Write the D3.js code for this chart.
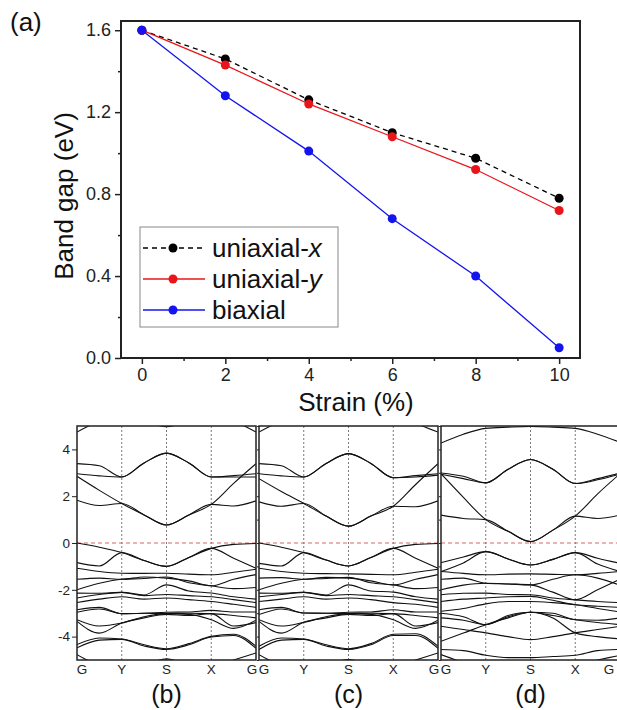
<!DOCTYPE html>
<html>
<head>
<meta charset="utf-8">
<script src="https://cdn.jsdelivr.net/npm/d3@7"></script>
<style>
  body { margin: 0; background: #fff; }
  text { font-family: Arial, "Liberation Sans", sans-serif; }
</style>
</head>
<body>
<div id="chart"></div>
<script>
/* ------------------------- Data ------------------------- */
/* band gap vs strain (panel a) */
var strain = [0, 2, 4, 6, 8, 10];
var gapUniX = [1.60, 1.46, 1.26, 1.10, 0.975, 0.78];
var gapUniY = [1.60, 1.43, 1.24, 1.08, 0.92, 0.72];
var gapBi = [1.60, 1.28, 1.01, 0.68, 0.40, 0.05];
var seriesNames = ["uniaxial-", "uniaxial-", "biaxial"];
var seriesItalic = ["x", "y", ""];

var xTicks = [0, 2, 4, 6, 8, 10],
    xMinor = [1, 3, 5, 7, 9],
    yTicks = [0, 0.4, 0.8, 1.2, 1.6],
    yMinor = [0.2, 0.6, 1.0, 1.4];

/* band structures: energies at G, GY, Y, YS, S, SX, X, XG, G */
var kPos = [0, 0.5, 1, 1.5, 2, 2.5, 3, 3.5, 4];
var kLabels = ["G", "Y", "S", "X", "G"];
var eTicks = [-4, -2, 0, 2, 4];

var bandsB = [
  [1.83, 1.60, 1.69, 1.20, 0.77, 1.20, 1.65, 1.58, 1.80],
  [2.85, 2.25, 1.69, 1.20, 0.77, 1.20, 1.65, 2.55, 3.39],
  [3.39, 3.30, 2.82, 3.42, 3.84, 3.42, 2.82, 2.88, 2.96],
  [2.96, 2.87, 2.82, 3.42, 3.84, 3.42, 2.82, 2.82, 2.82],
  [4.74, 5.20, 5.40, 5.20, 4.97, 5.20, 5.40, 5.20, 4.74],
  [0.00, -0.18, -0.41, -0.75, -1.00, -0.62, -0.23, -0.06, -0.02],
  [-0.84, -0.98, -0.41, -0.75, -1.00, -0.62, -0.23, -0.65, -1.08],
  [-1.08, -1.22, -1.29, -1.30, -1.29, -1.33, -1.36, -1.25, -1.12],
  [-1.55, -1.50, -1.55, -1.45, -1.50, -1.62, -1.83, -1.55, -1.35],
  [-2.00, -1.72, -1.55, -1.52, -1.45, -1.70, -1.83, -1.95, -1.90],
  [-2.14, -2.15, -2.11, -2.22, -1.79, -2.05, -2.14, -2.30, -2.40],
  [-2.35, -2.20, -2.11, -2.25, -2.20, -2.25, -2.30, -2.42, -2.55],
  [-2.54, -2.40, -2.30, -2.40, -2.35, -2.42, -2.50, -2.62, -2.75],
  [-2.85, -2.75, -3.02, -3.00, -2.96, -2.95, -2.88, -2.95, -2.95],
  [-2.96, -2.82, -3.02, -3.00, -3.02, -3.00, -3.02, -3.10, -3.20],
  [-3.28, -3.55, -3.42, -3.15, -3.02, -3.05, -3.28, -3.65, -3.30],
  [-3.35, -3.85, -3.42, -3.20, -3.05, -3.10, -3.02, -3.55, -3.40],
  [-4.34, -4.06, -4.10, -4.35, -4.52, -4.30, -3.99, -3.90, -4.41],
  [-4.48, -4.15, -4.12, -4.40, -4.55, -4.35, -4.02, -3.95, -4.50],
  [-4.77, -5.20, -5.30, -5.20, -4.95, -5.20, -5.30, -5.00, -4.70]
];

var bandsC = [
  [1.76, 1.57, 1.69, 1.15, 0.72, 1.15, 1.57, 1.55, 1.80],
  [2.75, 2.20, 1.69, 1.15, 0.72, 1.15, 1.57, 2.50, 3.39],
  [3.39, 3.30, 2.82, 3.40, 3.82, 3.40, 2.79, 2.88, 2.96],
  [2.96, 2.87, 2.82, 3.40, 3.82, 3.40, 2.79, 2.82, 2.90],
  [4.74, 5.20, 5.40, 5.20, 5.30, 5.20, 5.40, 5.10, 4.74],
  [0.00, -0.18, -0.41, -0.73, -0.98, -0.62, -0.23, -0.06, -0.02],
  [-0.87, -0.98, -0.41, -0.73, -0.98, -0.62, -0.23, -0.65, -1.08],
  [-1.08, -1.22, -1.29, -1.31, -1.32, -1.34, -1.36, -1.25, -1.12],
  [-1.50, -1.48, -1.55, -1.47, -1.50, -1.62, -1.79, -1.55, -1.35],
  [-2.00, -1.72, -1.55, -1.52, -1.47, -1.70, -1.79, -1.95, -1.90],
  [-2.14, -2.15, -2.11, -2.22, -1.79, -2.05, -2.10, -2.30, -2.40],
  [-2.30, -2.20, -2.11, -2.25, -2.20, -2.25, -2.30, -2.42, -2.55],
  [-2.50, -2.40, -2.30, -2.40, -2.35, -2.42, -2.55, -2.62, -2.75],
  [-2.85, -2.75, -2.99, -3.00, -2.96, -2.95, -2.85, -2.95, -2.95],
  [-3.06, -2.82, -2.99, -3.00, -3.02, -3.00, -3.02, -3.10, -3.20],
  [-3.28, -3.55, -3.39, -3.15, -3.02, -3.05, -3.28, -3.65, -3.30],
  [-3.35, -3.85, -3.39, -3.20, -3.05, -3.10, -3.02, -3.55, -3.40],
  [-4.41, -4.06, -4.10, -4.35, -4.52, -4.30, -3.90, -3.88, -4.41],
  [-4.55, -4.15, -4.12, -4.40, -4.55, -4.35, -3.95, -3.95, -4.50],
  [-4.77, -5.20, -5.30, -5.20, -4.98, -5.20, -5.30, -5.00, -4.70]
];

var bandsD = [
  [1.19, 1.05, 1.00, 0.50, 0.06, 0.55, 1.15, 1.05, 1.19],
  [2.96, 1.95, 1.00, 0.50, 0.06, 0.55, 1.15, 2.10, 2.96],
  [2.99, 2.85, 2.57, 3.15, 3.57, 3.15, 2.54, 2.75, 2.99],
  [2.94, 2.75, 2.57, 3.15, 3.57, 3.15, 2.54, 2.70, 2.94],
  [4.27, 4.65, 4.90, 4.95, 4.98, 4.95, 4.90, 4.65, 4.30],
  [-0.84, -0.60, -0.37, -0.68, -0.94, -0.70, -0.41, -0.65, -0.87],
  [-1.22, -0.85, -0.37, -0.68, -0.94, -0.70, -0.41, -0.90, -1.22],
  [-1.22, -1.30, -1.36, -1.33, -1.32, -1.34, -1.36, -1.30, -1.22],
  [-1.55, -1.50, -1.72, -1.75, -1.79, -2.10, -2.43, -2.00, -1.55],
  [-2.00, -1.80, -1.72, -1.75, -1.79, -1.55, -1.36, -1.50, -1.80],
  [-2.21, -2.15, -2.14, -2.20, -2.21, -2.35, -2.43, -2.50, -2.55],
  [-2.50, -2.40, -2.35, -2.30, -2.28, -2.45, -2.64, -2.70, -2.75],
  [-2.92, -2.80, -2.60, -2.50, -2.50, -2.55, -2.64, -2.80, -2.95],
  [-3.00, -3.15, -3.49, -3.10, -2.96, -3.00, -3.28, -3.30, -3.20],
  [-3.20, -3.30, -3.49, -3.15, -2.96, -3.10, -3.28, -3.40, -3.49],
  [-3.56, -3.70, -3.84, -4.00, -4.13, -4.00, -3.84, -3.70, -3.56],
  [-4.20, -3.85, -3.49, -3.20, -2.96, -3.20, -3.84, -4.00, -4.10],
  [-4.55, -4.60, -4.80, -4.90, -4.90, -4.85, -4.80, -4.60, -4.55],
  [-4.77, -5.10, -5.30, -5.30, -5.30, -5.30, -5.20, -5.00, -4.80]
];
/* ----------------------- End Data ----------------------- */

var width = 617,
    height = 710,
    fontFamily = "Arial, 'Liberation Sans', sans-serif";

var svg = d3.select("#chart")
            .append("svg")
            .attr("width", width)
            .attr("height", height);

svg.append("rect")
    .attr("width", width)
    .attr("height", height)
    .attr("fill", "#fff");

/* ------------------------- Panel (a) ------------------------- */
var box = {left: 121, right: 580, top: 21, bottom: 358};

var x = d3.scaleLinear().domain([-0.5, 10.5]).range([box.left, box.right]);
var y = d3.scaleLinear().domain([0, 1.645]).range([box.bottom, box.top]);

/* axes with major + minor ticks */
function drawAxis(g, axis) {
    g.call(axis);
    g.select(".domain").remove();
    g.selectAll("line").attr("stroke", "#222").attr("stroke-width", 1.5);
    g.selectAll("text").attr("font-size", 18).attr("font-family", fontFamily).attr("fill", "#222");
}

drawAxis(svg.append("g").attr("transform", "translate(0," + box.bottom + ")"),
    d3.axisBottom(x).tickValues(xTicks).tickSize(6).tickPadding(4).tickFormat(d3.format("d")));
drawAxis(svg.append("g").attr("transform", "translate(0," + box.bottom + ")"),
    d3.axisBottom(x).tickValues(xMinor).tickSize(3).tickFormat(""));
drawAxis(svg.append("g").attr("transform", "translate(" + box.left + ",0)"),
    d3.axisLeft(y).tickValues(yTicks).tickSize(6).tickPadding(4).tickFormat(d3.format(".1f")));
drawAxis(svg.append("g").attr("transform", "translate(" + box.left + ",0)"),
    d3.axisLeft(y).tickValues(yMinor).tickSize(3).tickFormat(""));

svg.append("rect")
    .attr("x", box.left)
    .attr("y", box.top)
    .attr("width", box.right - box.left)
    .attr("height", box.bottom - box.top)
    .attr("fill", "none")
    .attr("stroke", "#222")
    .attr("stroke-width", 2);

var series = [
    {values: gapUniX, color: "#000", dash: "5,4"},
    {values: gapUniY, color: "#e8161b", dash: null},
    {values: gapBi, color: "#1414f0", dash: null}
];

var line = d3.line()
            .x(function(d) { return x(d[0]); })
            .y(function(d) { return y(d[1]); });

series.forEach(function(s) {
    var pts = strain.map(function(k, i) { return [k, s.values[i]]; });
    svg.append("path")
        .datum(pts)
        .attr("fill", "none")
        .attr("stroke", s.color)
        .attr("stroke-width", 1.3)
        .attr("stroke-dasharray", s.dash)
        .attr("d", line);
    svg.append("g")
        .selectAll("circle")
        .data(pts)
        .enter().append("circle")
        .attr("cx", function(d) { return x(d[0]); })
        .attr("cy", function(d) { return y(d[1]); })
        .attr("r", 4.5)
        .attr("fill", s.color);
});

/* Legend */
var legend = svg.append("g").attr("transform", "translate(140,227)");
legend.append("rect")
    .attr("width", 198)
    .attr("height", 100)
    .attr("fill", "#fff")
    .attr("stroke", "#888")
    .attr("stroke-width", 1);

series.forEach(function(s, i) {
    var ry = 21 + i * 31;
    legend.append("line")
        .attr("x1", 3).attr("x2", 65)
        .attr("y1", ry).attr("y2", ry)
        .attr("stroke", s.color)
        .attr("stroke-width", 1.3)
        .attr("stroke-dasharray", s.dash);
    legend.append("circle")
        .attr("cx", 33).attr("cy", ry).attr("r", 4.5)
        .attr("fill", s.color);
    var t = legend.append("text")
        .attr("x", 72)
        .attr("y", ry + 9)
        .attr("font-size", 26)
        .attr("fill", "#111")
        .text(seriesNames[i]);
    if (seriesItalic[i]) {
        t.append("tspan").attr("font-style", "italic").text(seriesItalic[i]);
    }
});

/* Axis titles */
svg.append("text")
    .attr("transform", "translate(73,196)rotate(-90)")
    .attr("text-anchor", "middle")
    .attr("font-size", 26)
    .attr("fill", "#111")
    .text("Band gap (eV)");

svg.append("text")
    .attr("x", 356)
    .attr("y", 411)
    .attr("text-anchor", "middle")
    .attr("font-size", 26)
    .attr("fill", "#111")
    .text("Strain (%)");

svg.append("text")
    .attr("x", 10)
    .attr("y", 31)
    .attr("font-size", 26)
    .attr("fill", "#111")
    .text("(a)");
/* ----------------------- End Panel (a) ----------------------- */

/* ------------------------- Band panels ------------------------- */
var panelW = 179,
    eTop = 426,
    eBottom = 660;

var e = d3.scaleLinear().domain([-5, 5]).range([eBottom, eTop]);

function drawBands(left, bands, label, id, showAxis, lastShift) {
    var k = d3.scaleLinear().domain([0, 4]).range([left, left + panelW]);
    var g = svg.append("g");

    g.append("clipPath")
        .attr("id", id)
        .append("rect")
        .attr("x", left).attr("y", eTop)
        .attr("width", panelW).attr("height", eBottom - eTop);

    var inner = g.append("g").attr("clip-path", "url(#" + id + ")");

    /* high symmetry lines */
    inner.selectAll(".kline")
        .data([1, 2, 3])
        .enter().append("line")
        .attr("x1", function(d) { return k(d); })
        .attr("x2", function(d) { return k(d); })
        .attr("y1", eTop).attr("y2", eBottom)
        .attr("stroke", "#555")
        .attr("stroke-width", 0.8)
        .attr("stroke-dasharray", "2,2");

    /* Fermi level */
    inner.append("line")
        .attr("x1", left).attr("x2", left + panelW)
        .attr("y1", e(0)).attr("y2", e(0))
        .attr("stroke", "#d9534f")
        .attr("stroke-width", 0.9)
        .attr("stroke-dasharray", "4,3");

    var bandLine = d3.line()
        .curve(d3.curveMonotoneX)
        .x(function(d, i) { return k(kPos[i]); })
        .y(function(d) { return e(d); });

    inner.selectAll(".band")
        .data(bands)
        .enter().append("path")
        .attr("fill", "none")
        .attr("stroke", "#111")
        .attr("stroke-width", 1.1)
        .attr("d", bandLine);

    g.append("rect")
        .attr("x", left).attr("y", eTop)
        .attr("width", panelW).attr("height", eBottom - eTop)
        .attr("fill", "none")
        .attr("stroke", "#222")
        .attr("stroke-width", 1.5);

    var ax = g.append("g").attr("transform", "translate(" + left + ",0)");
    if (showAxis) {
        ax.call(d3.axisLeft(e).tickValues(eTicks).tickSize(5).tickPadding(2)
            .tickFormat(function(d) { return String(d); }));
    } else {
        ax.call(d3.axisLeft(e).tickValues(d3.range(-5, 6)).tickSize(2).tickFormat(""));
    }
    ax.select(".domain").remove();
    ax.selectAll("line").attr("stroke", "#222");
    ax.selectAll("text").attr("font-size", 13.5).attr("font-family", fontFamily).attr("fill", "#222");

    /* k labels */
    g.selectAll(".klab")
        .data(kLabels)
        .enter().append("text")
        .attr("x", function(d, i) { return k(i) + (i === 0 ? 5 : (i === 4 ? lastShift : 0)); })
        .attr("y", 674)
        .attr("text-anchor", "middle")
        .attr("font-size", 13.5)
        .attr("fill", "#222")
        .text(function(d) { return d; });

    g.append("text")
        .attr("x", left + panelW / 2)
        .attr("y", 703)
        .attr("text-anchor", "middle")
        .attr("font-size", 25)
        .attr("fill", "#111")
        .text(label);
}

drawBands(77, bandsB, "(b)", "clipB", true, -4);
drawBands(259, bandsC, "(c)", "clipC", false, -4);
drawBands(441, bandsD, "(d)", "clipD", false, -11);
/* ----------------------- End Band panels ----------------------- */
</script>
</body>
</html>
